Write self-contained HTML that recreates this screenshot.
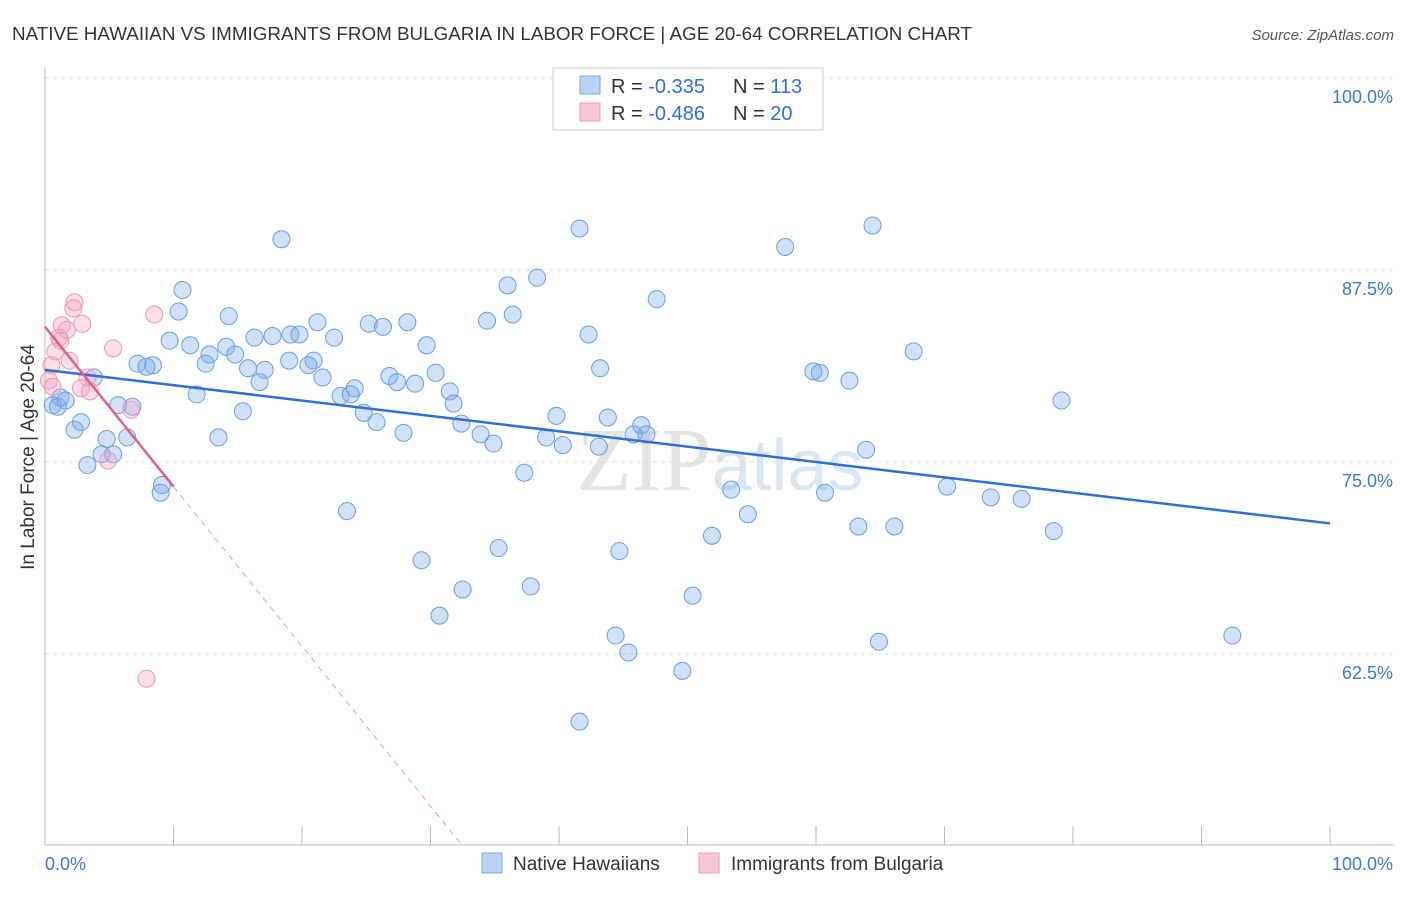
<!DOCTYPE html>
<html><head><meta charset="utf-8"><style>
body{margin:0;background:#fff;font-family:"Liberation Sans",sans-serif;}
</style></head><body>
<svg id="chart" width="1406" height="892" xmlns="http://www.w3.org/2000/svg">
<text x="12" y="40" font-size="18" fill="#333" textLength="960" lengthAdjust="spacingAndGlyphs">NATIVE HAWAIIAN VS IMMIGRANTS FROM BULGARIA IN LABOR FORCE | AGE 20-64 CORRELATION CHART</text>
<text x="1394" y="40" font-size="15" fill="#555" font-style="italic" text-anchor="end">Source: ZipAtlas.com</text>
<text x="720" y="490" font-size="90" fill="#e4e4e4" text-anchor="middle" font-family="Liberation Serif">ZIP<tspan fill="#dbe6f3" font-family="Liberation Sans" font-size="72">atlas</tspan></text>
<g id="grid"></g><g id="axes"></g><g id="pts"></g><g id="trend"></g>
<text transform="translate(34,457) rotate(-90)" font-size="19" fill="#333" text-anchor="middle">In Labor Force | Age 20-64</text>
<g>
<rect x="553" y="68" width="270" height="62" fill="#fff" stroke="#ccc"/>
<rect x="580" y="76" width="20" height="18" fill="#b8d3f5" stroke="#7aaae6"/>
<rect x="580" y="103" width="20" height="18" fill="#f9c8d6" stroke="#eb9ab4"/>
<text x="611" y="93" font-size="20" fill="#333">R = <tspan fill="#2f6fd6">-0.335</tspan></text>
<text x="733" y="93" font-size="20" fill="#333">N = <tspan fill="#2f6fd6">113</tspan></text>
<text x="611" y="120" font-size="20" fill="#333">R = <tspan fill="#2f6fd6">-0.486</tspan></text>
<text x="733" y="120" font-size="20" fill="#333">N = <tspan fill="#2f6fd6"> 20</tspan></text>
</g>
<g>
<rect x="482" y="853" width="20" height="20" fill="#b8d3f5" stroke="#7aaae6"/>
<text x="513" y="870" font-size="19" fill="#333">Native Hawaiians</text>
<rect x="699" y="853" width="20" height="20" fill="#f9c8d6" stroke="#eb9ab4"/>
<text x="731" y="870" font-size="19" fill="#333">Immigrants from Bulgaria</text>
</g>
</svg>
<script>
const blueX=[18.4,41.6,64.4,57.6,38.3,36.0,10.7,47.6,10.4,14.3,34.4,36.4,21.2,25.2,26.3,28.2,42.3,9.7,16.3,17.7,19.1,19.8,22.5,11.3,14.1,29.7,67.6,12.8,14.8,7.2,8.4,7.9,12.5,15.8,19.0,20.9,20.5,43.2,17.1,16.7,21.6,26.8,27.4,28.8,30.4,59.8,60.3,62.6,3.8,11.8,24.1,23.0,23.8,31.5,31.8,79.1,1.2,0.6,1.0,1.6,5.7,6.8,15.4,24.8,25.8,32.4,39.8,43.8,46.4,2.8,2.3,4.8,6.4,13.5,27.9,33.9,34.9,39.0,40.3,43.1,45.8,46.8,63.9,4.4,5.3,3.3,37.3,9.1,9.0,53.4,60.7,70.2,73.6,76.0,54.7,23.5,63.3,66.1,78.5,51.9,35.3,44.7,29.3,37.8,32.5,50.4,30.7,44.4,45.4,64.9,49.6,92.4,41.6];
const blueY=[89.5,90.2,90.4,89.0,87.0,86.5,86.2,85.6,84.8,84.5,84.2,84.6,84.1,84.0,83.8,84.1,83.3,82.9,83.1,83.2,83.3,83.3,83.1,82.6,82.5,82.6,82.2,82.0,82.0,81.4,81.3,81.2,81.4,81.1,81.6,81.6,81.3,81.1,81.0,80.2,80.5,80.6,80.2,80.1,80.8,80.9,80.8,80.3,80.5,79.4,79.8,79.3,79.4,79.6,78.8,79.0,79.2,78.7,78.6,79.0,78.7,78.6,78.3,78.2,77.6,77.5,78.0,77.9,77.4,77.6,77.1,76.5,76.6,76.6,76.9,76.8,76.2,76.6,76.1,76.0,76.8,76.8,75.8,75.5,75.5,74.8,74.3,73.5,73.0,73.2,73.0,73.4,72.7,72.6,71.6,71.8,70.8,70.8,70.5,70.2,69.4,69.2,68.6,66.9,66.7,66.3,65.0,63.7,62.6,63.3,61.4,63.7,58.1];
const pinkX=[2.3,2.2,2.9,1.3,1.7,1.1,1.2,0.8,1.9,0.5,0.3,0.6,5.3,8.5,3.3,2.8,3.5,6.7,4.9,7.9];
const pinkY=[85.4,85.0,84.0,83.9,83.6,83.1,82.9,82.2,81.6,81.3,80.3,79.9,82.4,84.6,80.5,79.8,79.6,78.4,75.1,60.9];
const yTicks=[100,87.5,75,62.5];
const xTickLabels=["0.0%","100.0%"];
const blueTrend=[81.0,71.0];
const pinkTrend=[83.8,73.4];
const NS="http://www.w3.org/2000/svg";
const X=v=>45+v*12.85, Y=v=>78+(100-v)*15.36;
function mk(t,a,p){const e=document.createElementNS(NS,t);for(const k in a)e.setAttribute(k,a[k]);document.getElementById(p).appendChild(e);return e;}
yTicks.forEach(t=>{
 const l=mk('line',{x1:45,x2:1394,y1:Y(t),y2:Y(t),stroke:'#ddd','stroke-dasharray':'4,4'},'grid');
 
 
 const tx=mk('text',{x:1393,y:Y(t)+25,'font-size':18,fill:'#3b78d8','text-anchor':'end'},'grid');
 tx.textContent=t.toFixed(1)+'%';
 
 
});
mk('line',{x1:45,x2:45,y1:68,y2:845,stroke:'#bbb'},'axes');
mk('line',{x1:45,x2:1394,y1:845,y2:845,stroke:'#bbb'},'axes');
for(let i=0;i<=10;i++){const t=mk('line',{x1:X(i*10),x2:X(i*10),y1:826,y2:845,stroke:'#bbb'},'axes');
 
 }
const xl0=mk('text',{x:45,y:870,'font-size':18,fill:'#3b78d8'},'axes');xl0.textContent=xTickLabels[0];


const xl1=mk('text',{x:1393,y:870,'font-size':18,fill:'#3b78d8','text-anchor':'end'},'axes');xl1.textContent=xTickLabels[1];


blueX.forEach((v,i)=>{const c=mk('circle',{cx:X(v),cy:Y(blueY[i]),r:8.5,fill:'rgba(120,170,235,0.35)',stroke:'#6b9fe3','stroke-width':1},'pts');
 
 });
pinkX.forEach((v,i)=>{const c=mk('circle',{cx:X(v),cy:Y(pinkY[i]),r:8.5,fill:'rgba(245,160,190,0.35)',stroke:'#ec9ab5','stroke-width':1},'pts');
 
 });
const bl=mk('line',{x1:X(0),y1:Y(blueTrend[0]),x2:X(100),y2:Y(blueTrend[1]),stroke:'#2f6fd6','stroke-width':2.5},'trend');


const slope=(pinkTrend[1]-pinkTrend[0])/10, xEnd=(50-pinkTrend[0])/slope;
const pd=mk('line',{x1:X(10),y1:Y(pinkTrend[1]),x2:X(xEnd),y2:Y(50),stroke:'#eaa0b8','stroke-width':1,'stroke-dasharray':'6,5'},'trend');


const pl=mk('line',{x1:X(0),y1:Y(pinkTrend[0]),x2:X(10),y2:Y(pinkTrend[1]),stroke:'#e0608a','stroke-width':2.5},'trend');


</script>
</body></html>
